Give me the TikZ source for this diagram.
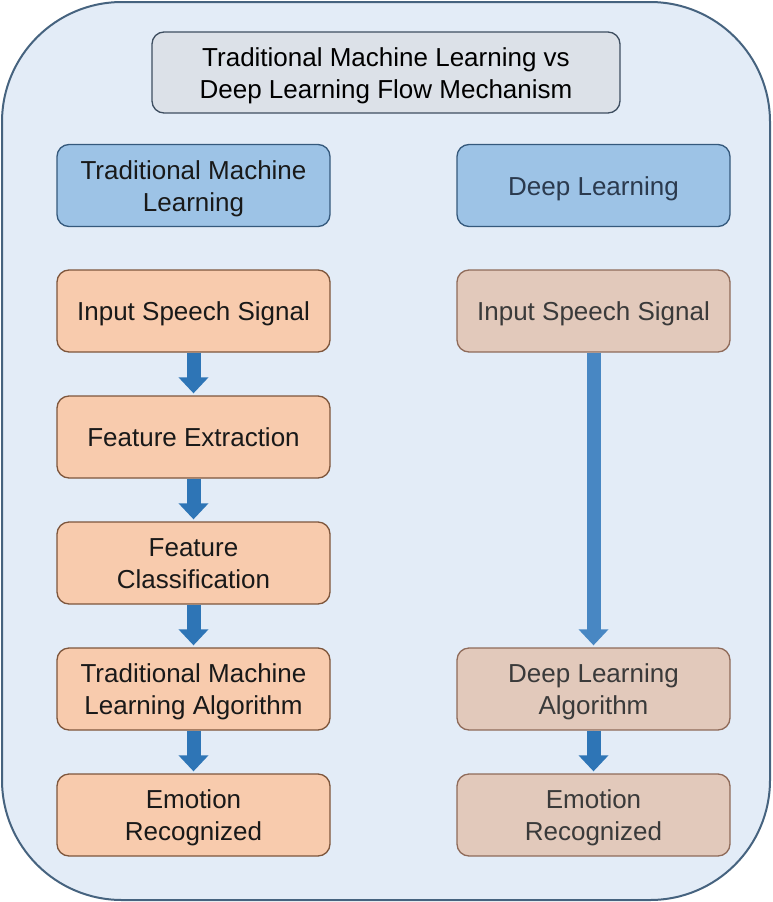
\documentclass[tikz,border=0pt]{standalone}
\usepackage{fontspec}
\setmainfont{Liberation Sans}
\usetikzlibrary{arrows.meta}
\definecolor{outerfill}{HTML}{E3ECF7}
\definecolor{outerdraw}{HTML}{46637F}
\definecolor{titlefill}{HTML}{DCE1E8}
\definecolor{titledraw}{HTML}{3E4E60}
\definecolor{headfill}{HTML}{9DC3E6}
\definecolor{headdraw}{HTML}{35597C}
\definecolor{headtext}{HTML}{2B3A4E}
\definecolor{tmlfill}{HTML}{F8CBAD}
\definecolor{tmldraw}{HTML}{7E563C}
\definecolor{dlfill}{HTML}{E2C9BB}
\definecolor{dldraw}{HTML}{8F6B5A}
\definecolor{dltext}{HTML}{3A3A3A}
\definecolor{arrowA}{HTML}{2E75B6}
\definecolor{arrowB}{HTML}{4887C3}
\newcommand{\boxlines}[1]{\raisebox{-3.5pt}[\height][\depth]{\begin{tabular}{@{}c@{}}#1\end{tabular}}}
\tikzset{
  base/.style={rectangle, rounded corners=12pt, line width=1.3pt,
    minimum width=273pt, minimum height=82pt, inner sep=0pt,
    font=\fontsize{26}{32}\selectfont},
  titlebox/.style={base, fill=titlefill, draw=titledraw, minimum width=468pt, minimum height=81pt, text=black},
  headbox/.style={base, fill=headfill, draw=headdraw},
  tmlbox/.style={base, fill=tmlfill, draw=tmldraw, text=black!90},
  dlbox/.style={base, fill=dlfill, draw=dldraw, text=dltext},
  flow/.style={line width=14pt, shorten >=2pt, -{Triangle[length=16pt,width=29pt]}}
}
\begin{document}
\begin{tikzpicture}[x=1pt,y=-1pt]
\useasboundingbox (0,0) rectangle (772,902);
\draw[fill=outerfill, draw=outerdraw, line width=2pt, rounded corners=120pt] (2,2) rectangle (770,900);
\node[titlebox] (title) at (386,72.5) {\boxlines{Traditional Machine Learning vs\\Deep Learning Flow Mechanism}};
\node[headbox, text=black!90] (hl) at (193.5,185.5) {\boxlines{Traditional Machine\\Learning}};
\node[headbox, text=headtext] (hr) at (593.5,185.5) {\boxlines{Deep Learning}};
\node[tmlbox] (l1) at (193.5,311) {\boxlines{Input Speech Signal}};
\node[tmlbox] (l2) at (193.5,437) {\boxlines{Feature Extraction}};
\node[tmlbox] (l3) at (193.5,563) {\boxlines{Feature\\Classification}};
\node[tmlbox] (l4) at (193.5,689) {\boxlines{Traditional Machine\\Learning Algorithm}};
\node[tmlbox] (l5) at (193.5,815) {\boxlines{Emotion\\Recognized}};
\node[dlbox] (r1) at (593.5,311) {\boxlines{Input Speech Signal}};
\node[dlbox] (r4) at (593.5,689) {\boxlines{Deep Learning\\Algorithm}};
\node[dlbox] (r5) at (593.5,815) {\boxlines{Emotion\\Recognized}};
\draw[flow, draw=arrowA, fill=arrowA] (l1.south) -- (l2.north);
\draw[flow, draw=arrowA, fill=arrowA] (l2.south) -- (l3.north);
\draw[flow, draw=arrowA, fill=arrowA] (l3.south) -- (l4.north);
\draw[flow, draw=arrowA, fill=arrowA] (l4.south) -- (l5.north);
\draw[flow, draw=arrowB, fill=arrowB] (r1.south) -- (r4.north);
\draw[flow, draw=arrowA, fill=arrowA] (r4.south) -- (r5.north);
\end{tikzpicture}
\end{document}
